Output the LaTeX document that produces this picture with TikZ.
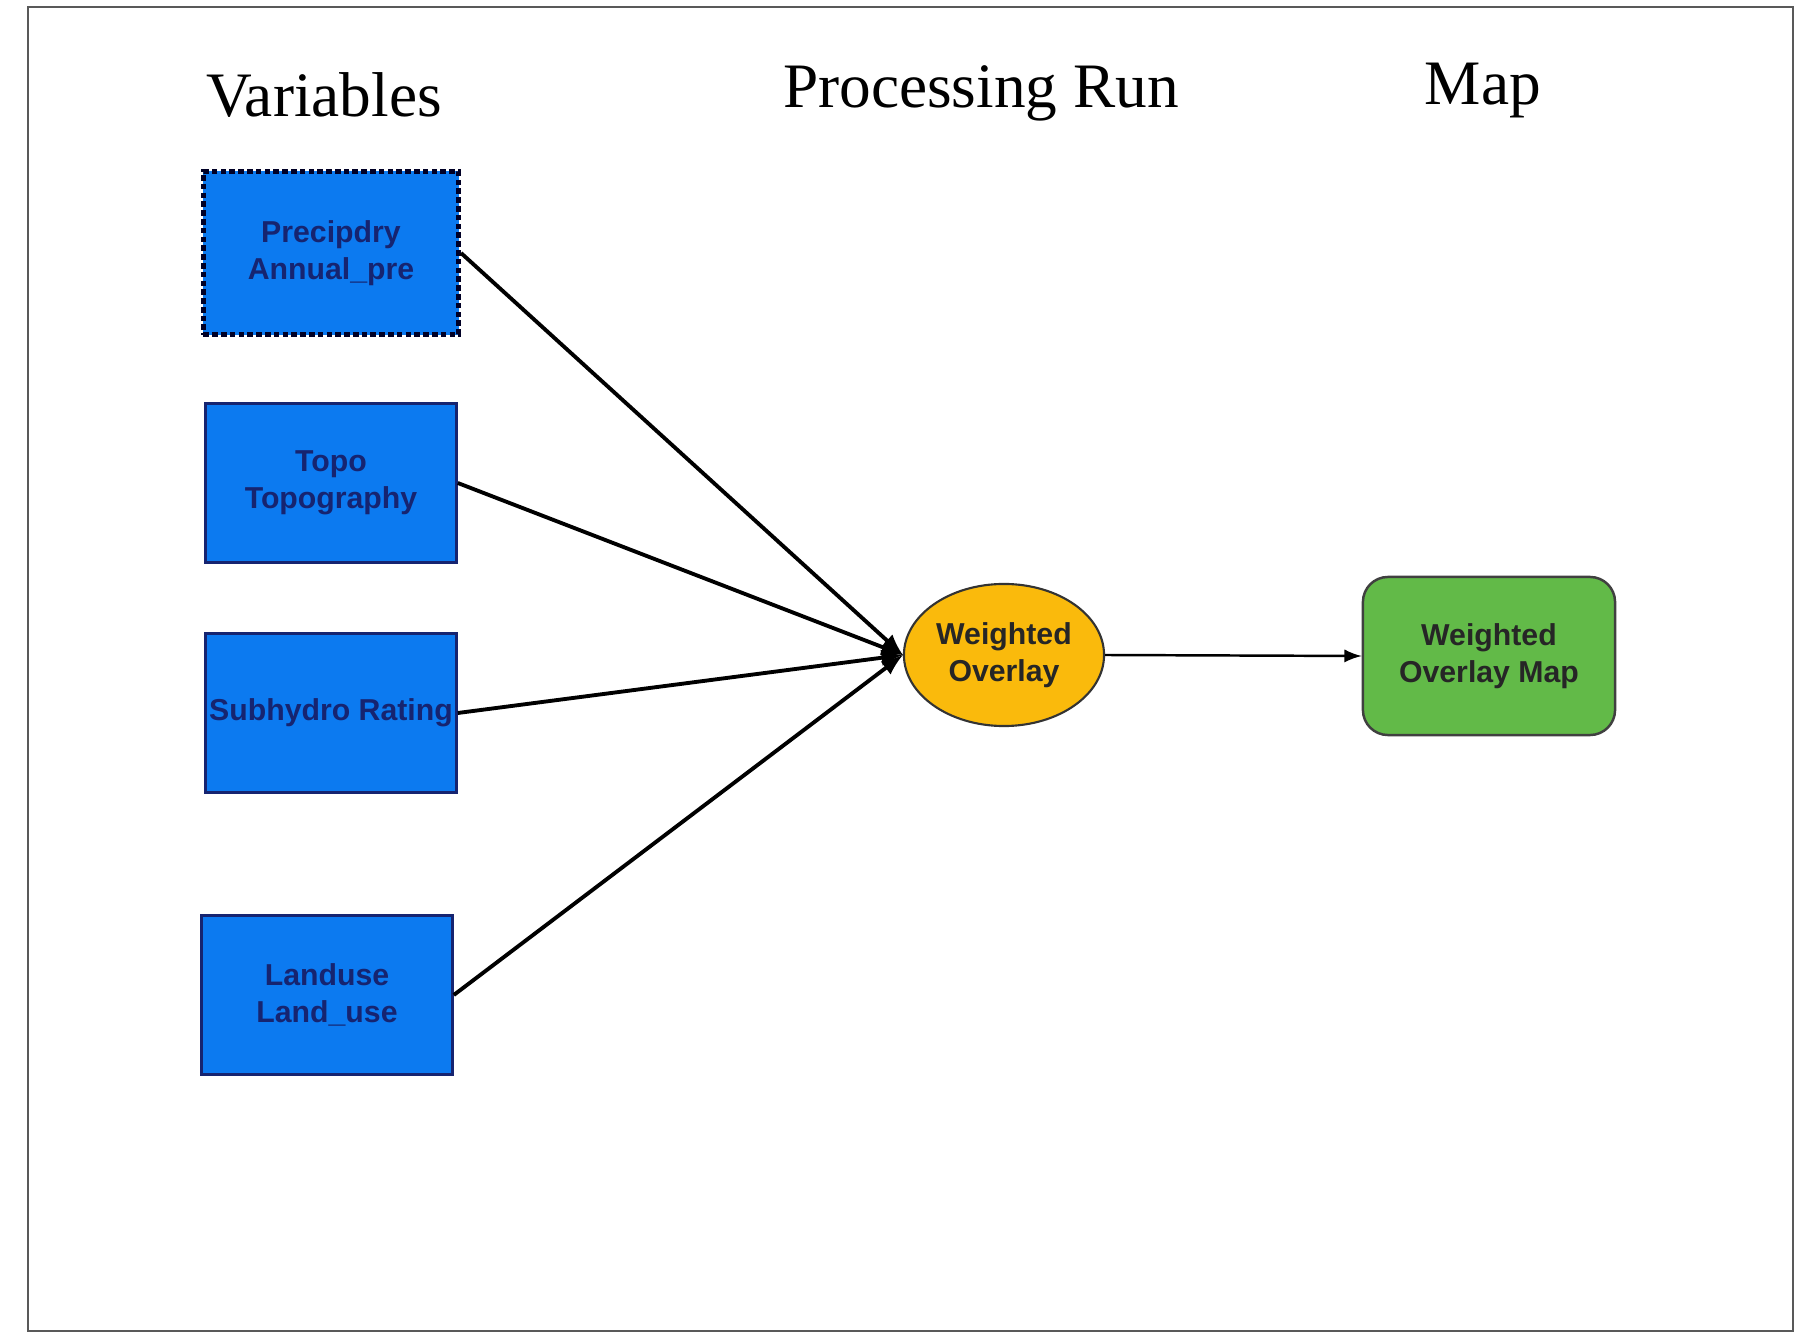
\documentclass[tikz,border=0pt]{standalone}
\usepackage{fontspec}
\setmainfont{Liberation Serif}
\setsansfont{Liberation Sans}
\usetikzlibrary{arrows,shapes.geometric}
\definecolor{varblue}{RGB}{12,122,240}
\definecolor{varline}{RGB}{22,36,112}
\definecolor{runyellow}{RGB}{250,186,12}
\definecolor{mapgreen}{RGB}{98,186,72}
\begin{document}
\begin{tikzpicture}[x=0.01cm,y=-0.01cm,
		var/.style={draw=varline,line width=0.7pt,fill=varblue,minimum width=2.51cm,minimum height=1.59cm,inner sep=0pt,align=center,text=varline,font=\sffamily\bfseries\fontsize{8.6}{10.4}\selectfont},
		heading/.style={anchor=base,font=\fontsize{18}{21}\selectfont},
		link/.style={line width=1.1pt,-latex}]
			\useasboundingbox (0,0) rectangle (1799,1334);
			\draw[color=black!65,line width=0.8pt](28,7) rectangle (1793,1331);
			\node[heading] (vartitle) at (324,117) {Variables};
			\node[heading] (runtitle) at (981,108) {Processing Run};
			\node[heading] (maptitle) at (1483,105) {Map};
			\node[var,draw=black!85!blue,line width=1.4pt,dash pattern=on 1.6pt off 0.9pt,minimum width=2.55cm,minimum height=1.63cm] (precip) at (331,253) {Precipdry\\Annual\_pre};
			\node[var] (topo) at (331,483) {Topo\\Topography};
			\node[var] (subhydro) at (331,713) {Subhydro Rating};
			\node[var] (landuse) at (327,995) {Landuse\\Land\_use};
			\node[ellipse,draw=black!80,line width=0.6pt,fill=runyellow,minimum width=2cm,minimum height=1.42cm,inner sep=0pt,align=center,text=black!85,font=\sffamily\bfseries\fontsize{8.6}{10.4}\selectfont] (overlay) at (1004,655) {Weighted\\Overlay};
			\node[rounded corners=0.25cm,draw=black!75,line width=0.7pt,fill=mapgreen,minimum width=2.52cm,minimum height=1.58cm,inner sep=0pt,align=center,text=black!85,font=\sffamily\bfseries\fontsize{8.6}{10.4}\selectfont] (map) at (1489,656) {Weighted\\Overlay Map};
			\draw[link](precip.east) -- (overlay.west);
			\draw[link](topo.east) -- (overlay.west);
			\draw[link](subhydro.east) -- (overlay.west);
			\draw[link](landuse.east) -- (overlay.west);
			\draw[line width=0.7pt,-latex](overlay.east) -- (map.west);
		\end{tikzpicture}
\end{document}
